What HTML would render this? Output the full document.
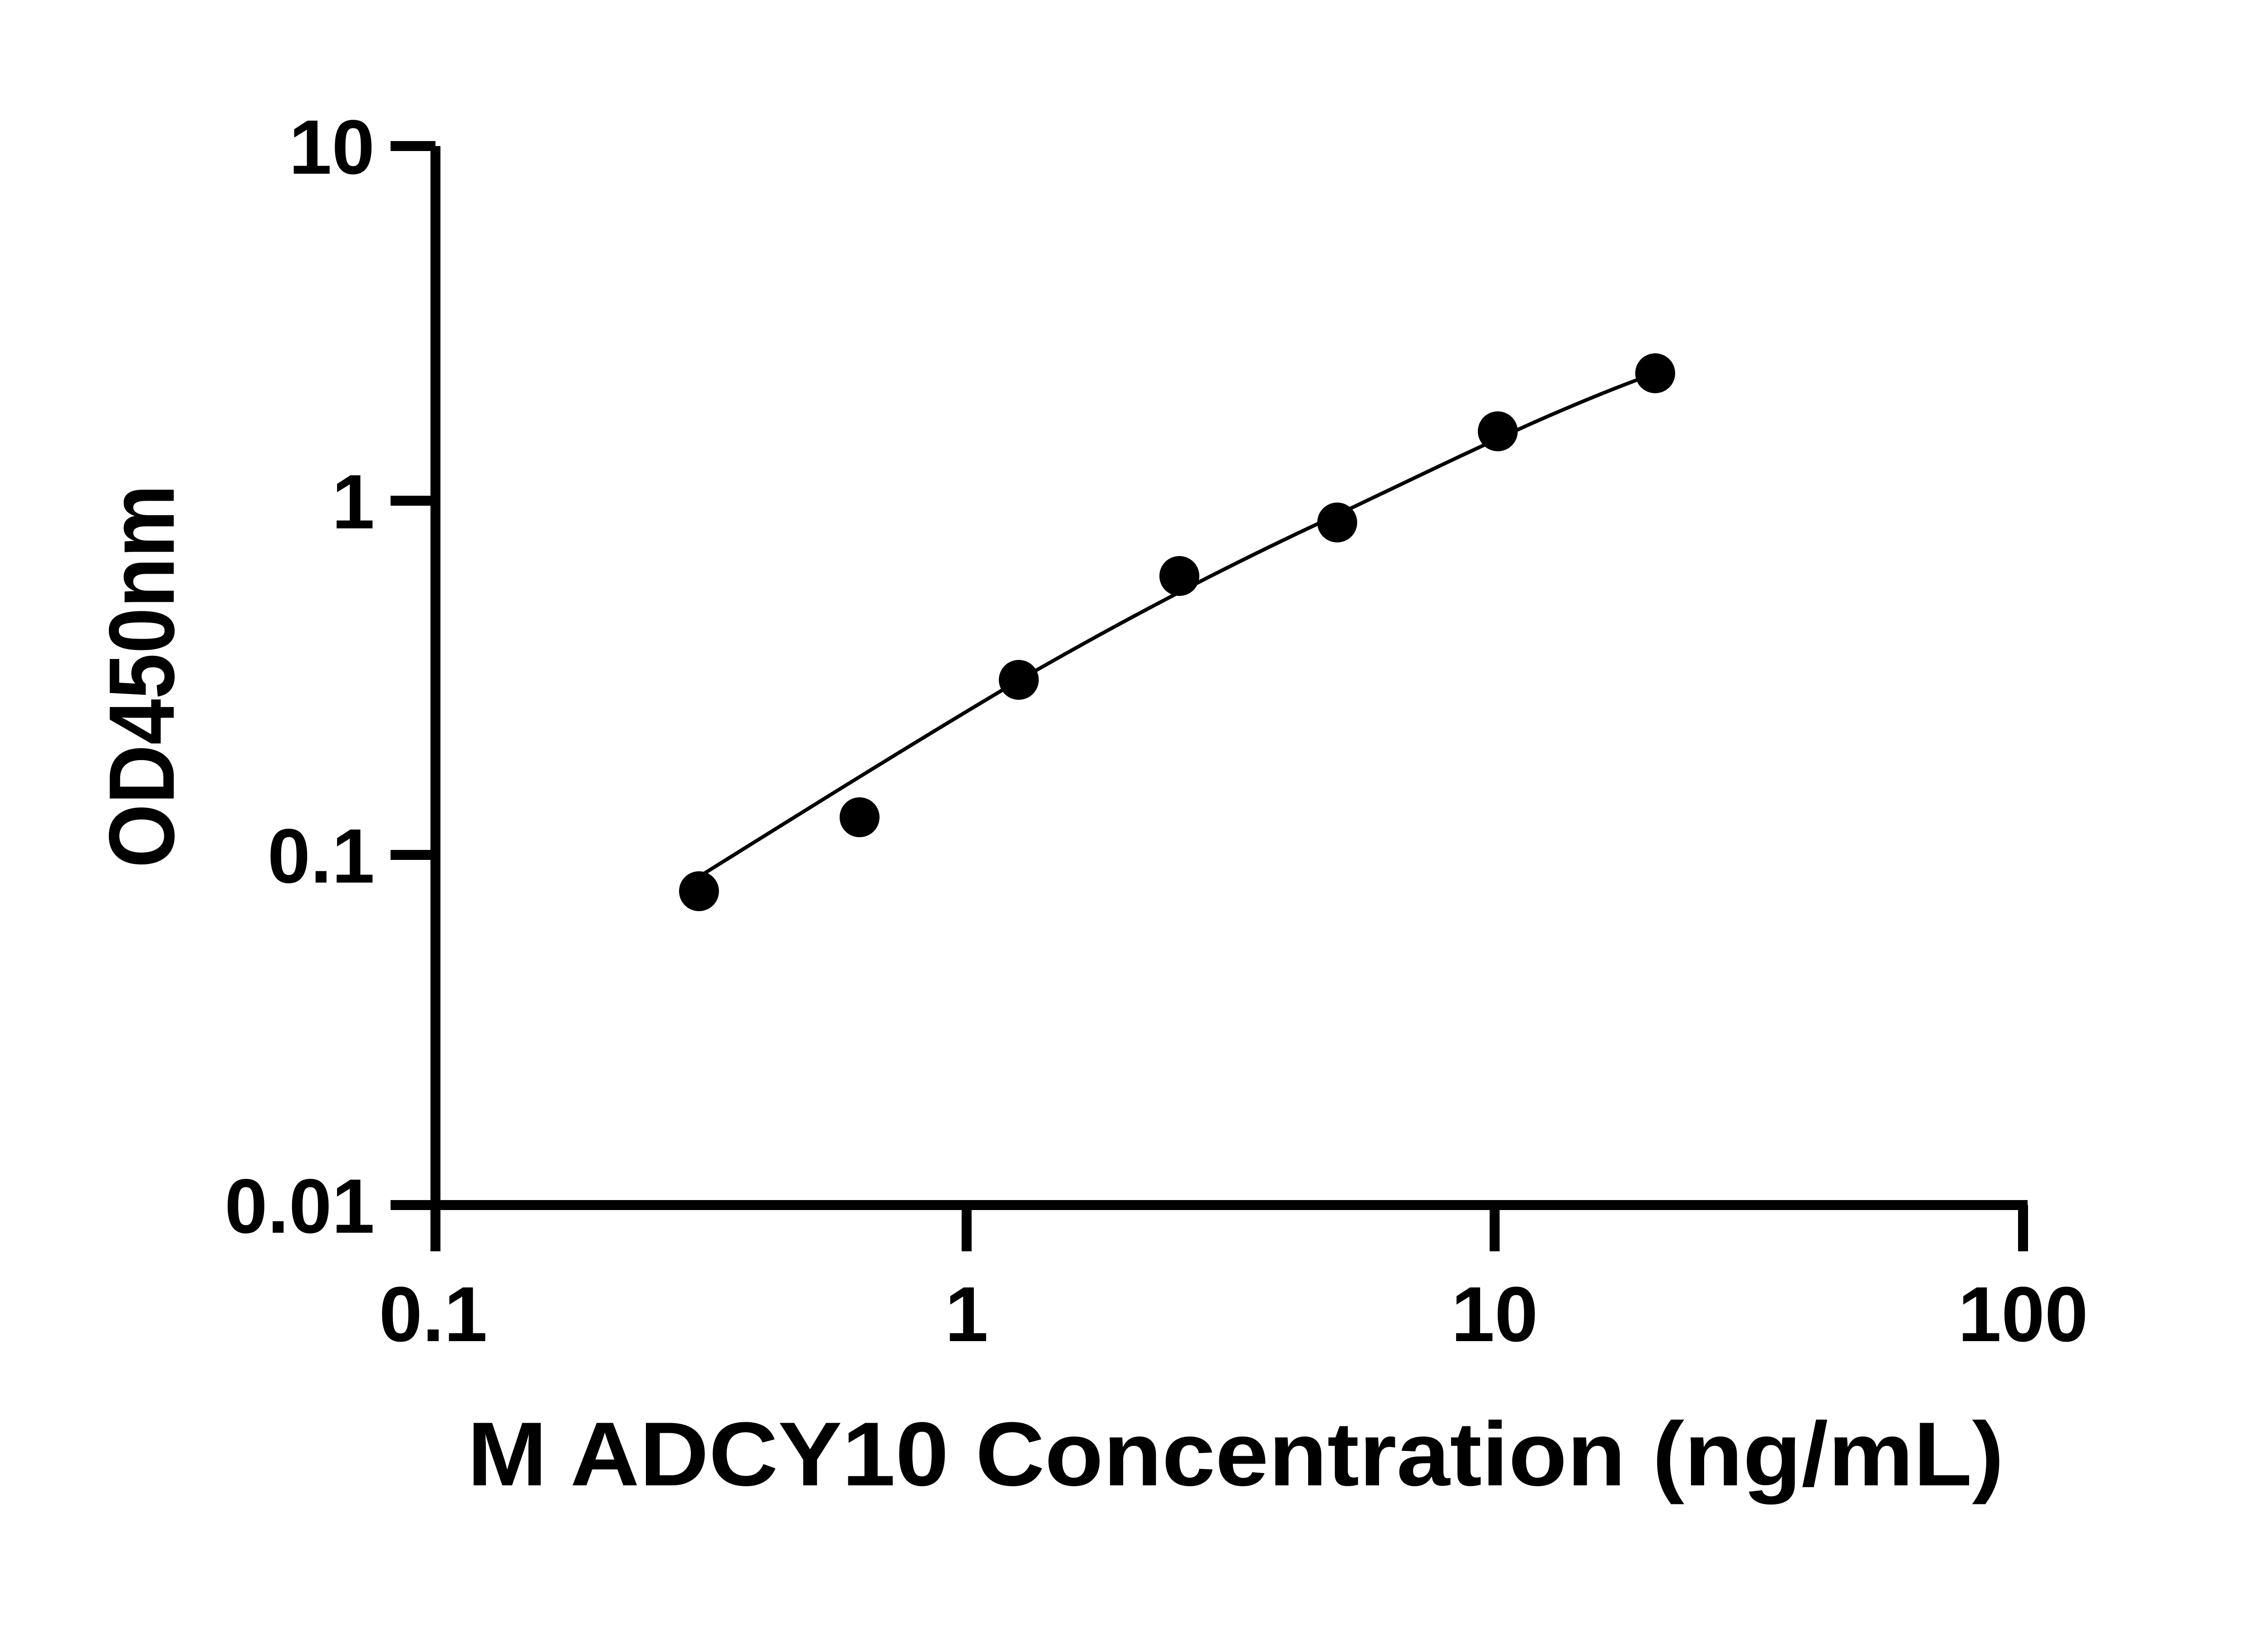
<!DOCTYPE html>
<html><head><meta charset="utf-8"><style>html,body{margin:0;padding:0;background:#fff}</style></head>
<body>
<svg width="5142" height="3600" viewBox="0 0 5142 3600" xmlns="http://www.w3.org/2000/svg">
<rect width="5142" height="3600" fill="#fff"/>
<g stroke="#000" stroke-width="22" fill="none">
<line x1="960" y1="322" x2="960" y2="2759"/>
<line x1="950" y1="2657" x2="4470" y2="2657"/>
<line x1="861" y1="322" x2="960" y2="322"/>
<line x1="861" y1="1104" x2="960" y2="1104"/>
<line x1="861" y1="1885" x2="960" y2="1885"/>
<line x1="861" y1="2657" x2="960" y2="2657"/>
<line x1="2131" y1="2657" x2="2131" y2="2759"/>
<line x1="3295" y1="2657" x2="3295" y2="2759"/>
<line x1="4460" y1="2657" x2="4460" y2="2759"/>
</g>
<path d="M1541,1933 C1770,1790 2010,1640 2246,1500 C2480,1365 2720,1240 2948,1135 C3180,1025 3420,905 3649,823" fill="none" stroke="#000" stroke-width="8"/>
<g fill="#000">
<circle cx="1541" cy="1965" r="44"/>
<circle cx="1895" cy="1802" r="44"/>
<circle cx="2246" cy="1499" r="44"/>
<circle cx="2600" cy="1270" r="44"/>
<circle cx="2948" cy="1152" r="44"/>
<circle cx="3302" cy="951" r="44"/>
<circle cx="3649" cy="823" r="44"/>
</g>
<g font-family="Liberation Sans, sans-serif" font-weight="bold" font-size="170" fill="#000" text-anchor="end">
<text x="826" y="383">10</text>
<text x="826" y="1165">1</text>
<text x="826" y="1946">0.1</text>
<text x="826" y="2718">0.01</text>
</g>
<g font-family="Liberation Sans, sans-serif" font-weight="bold" font-size="172" fill="#000" text-anchor="middle">
<text x="955" y="2957">0.1</text>
<text x="2131" y="2957">1</text>
<text x="3295" y="2957">10</text>
<text x="4460" y="2957">100</text>
</g>
<text x="2724" y="3275" font-family="Liberation Sans, sans-serif" font-weight="bold" font-size="200" text-anchor="middle" textLength="3388" lengthAdjust="spacingAndGlyphs">M ADCY10 Concentration (ng/mL)</text>
<text transform="translate(383,1491) rotate(-90)" font-family="Liberation Sans, sans-serif" font-weight="bold" font-size="205" text-anchor="middle" textLength="845" lengthAdjust="spacingAndGlyphs">OD450nm</text>
</svg>
</body></html>
